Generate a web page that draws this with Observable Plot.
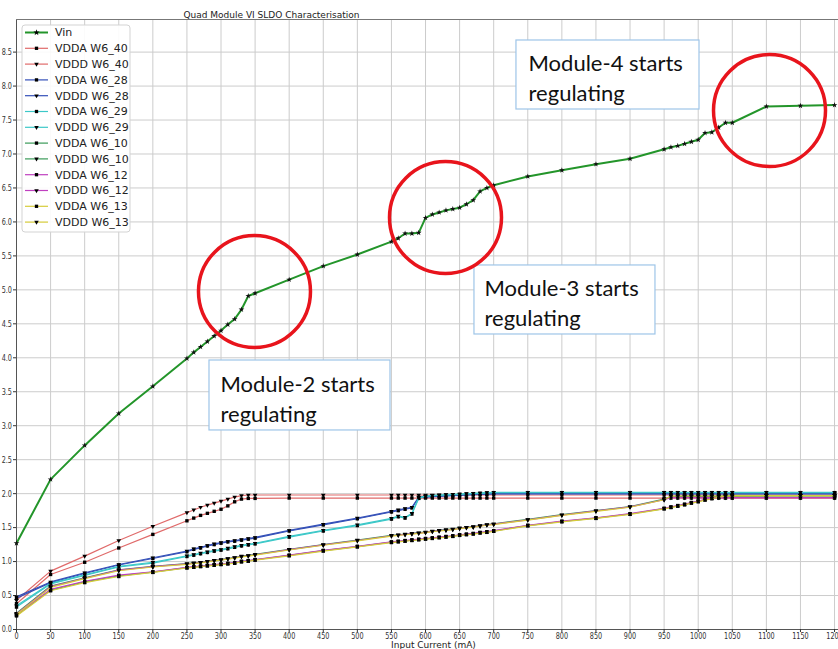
<!DOCTYPE html>
<html><head><meta charset="utf-8">
<script src="https://cdn.jsdelivr.net/npm/d3@7"></script>
<script src="https://cdn.jsdelivr.net/npm/@observablehq/plot@0.6"></script>
<style>
html,body{margin:0;padding:0;background:#fff;}
#chart{position:relative;width:838px;height:649px;overflow:hidden;}
</style></head><body><div id="chart"></div>
<script>
// ---------- data ----------
const current = [0,50,100,150,200,
  250,260,270,280,290,300,310,320,330,340,350,
  400,450,500,
  550,560,570,580,590,600,610,620,630,640,650,660,670,680,690,700,
  750,800,850,900,
  950,960,970,980,990,1000,1010,1020,1030,1040,1050,
  1100,1150,1200];

const vin = [1.27,2.21,2.71,3.18,3.58,
  3.99,4.08,4.16,4.24,4.32,4.40,4.49,4.57,4.71,4.91,4.95,
  5.15,5.35,5.52,
  5.71,5.76,5.83,5.83,5.84,6.06,6.11,6.14,6.17,6.19,6.21,6.26,6.32,6.45,6.50,6.54,
  6.67,6.76,6.85,6.93,
  7.07,7.10,7.12,7.15,7.18,7.21,7.31,7.32,7.39,7.46,7.46,
  7.70,7.71,7.72];

const vddaW640 = [0.38,0.81,0.99,1.20,1.40,
  1.60,1.64,1.68,1.71,1.74,1.77,1.82,1.88,1.92,1.93,1.93,
  1.935,1.935,1.935,
  1.935,1.935,1.935,1.935,1.935,1.935,1.935,1.935,1.935,1.935,1.935,1.935,1.935,1.935,1.935,1.935,
  1.935,1.935,1.935,1.935,
  1.935,1.935,1.935,1.935,1.935,1.935,1.935,1.935,1.935,1.935,1.935,
  1.935,1.935,1.935];
const vdddW640 = [0.43,0.86,1.08,1.31,1.52,
  1.72,1.76,1.80,1.83,1.86,1.89,1.92,1.95,1.97,1.98,1.98,
  1.98,1.98,1.98,
  1.98,1.98,1.98,1.98,1.98,1.98,1.98,1.98,1.98,1.98,1.98,1.98,1.98,1.98,1.98,1.98,
  1.98,1.98,1.98,1.98,
  1.98,1.98,1.98,1.98,1.98,1.98,1.98,1.98,1.98,1.98,1.98,
  1.98,1.98,1.98];
const vddaW628 = [0.46,0.69,0.825,0.95,1.045,
  1.145,1.18,1.20,1.23,1.25,1.27,1.29,1.30,1.315,1.33,1.345,
  1.45,1.54,1.63,
  1.73,1.75,1.77,1.79,1.94,1.95,1.955,1.96,1.965,1.97,1.975,1.98,1.985,1.99,1.99,1.995,
  1.995,1.995,1.995,1.995,
  1.995,1.995,1.995,1.995,1.995,1.995,1.995,1.995,1.995,1.995,1.995,
  1.995,1.995,1.995];
const vdddW628 = [0.48,0.70,0.835,0.957,1.056,
  1.153,1.188,1.21,1.237,1.26,1.28,1.296,1.31,1.325,1.34,1.355,
  1.458,1.55,1.64,
  1.74,1.76,1.78,1.80,1.95,1.955,1.96,1.965,1.97,1.975,1.98,1.985,1.99,1.99,1.995,2.00,
  2.00,2.00,2.00,2.00,
  2.00,2.00,2.00,2.00,2.00,2.00,2.00,2.00,2.00,2.00,2.00,
  2.00,2.00,2.00];
const vddaW629 = [0.33,0.67,0.795,0.92,0.977,
  1.075,1.094,1.115,1.134,1.153,1.168,1.188,1.21,1.23,1.245,1.26,
  1.36,1.45,1.53,
  1.625,1.66,1.64,1.70,1.93,1.96,1.97,1.975,1.98,1.985,1.99,1.995,2.00,2.005,2.01,2.015,
  2.015,2.015,2.015,2.015,
  2.015,2.015,2.015,2.015,2.015,2.015,2.015,2.015,2.015,2.015,2.015,
  2.015,2.015,2.015];
const vdddW629 = [0.35,0.68,0.805,0.93,0.99,
  1.085,1.104,1.125,1.144,1.163,1.178,1.198,1.22,1.24,1.255,1.27,
  1.37,1.46,1.54,
  1.635,1.67,1.65,1.71,1.94,1.965,1.975,1.98,1.985,1.99,1.995,2.00,2.005,2.01,2.015,2.02,
  2.02,2.02,2.02,2.02,
  2.02,2.02,2.02,2.02,2.02,2.02,2.02,2.02,2.02,2.02,2.02,
  2.02,2.02,2.02];
const vddaW610 = [0.21,0.58,0.70,0.79,0.845,
  0.91,0.92,0.93,0.94,0.95,0.96,0.97,0.98,1.00,1.01,1.027,
  1.09,1.16,1.22,
  1.285,1.295,1.305,1.315,1.325,1.335,1.345,1.355,1.365,1.375,1.39,1.40,1.41,1.425,1.435,1.45,
  1.53,1.59,1.64,1.70,
  1.78,1.80,1.82,1.84,1.865,1.885,1.91,1.93,1.95,1.97,1.975,
  1.97,1.97,1.97];
const vdddW610 = [0.24,0.64,0.76,0.88,0.93,
  0.97,0.98,0.99,1.005,1.02,1.03,1.045,1.06,1.08,1.09,1.105,
  1.18,1.25,1.315,
  1.385,1.395,1.405,1.415,1.425,1.435,1.45,1.46,1.47,1.48,1.495,1.505,1.515,1.53,1.545,1.556,
  1.62,1.69,1.75,1.81,
  1.92,1.95,1.955,1.96,1.96,1.96,1.96,1.96,1.96,1.96,1.96,
  1.965,1.965,1.965];
const vddaW612 = [0.22,0.59,0.71,0.80,0.85,
  0.915,0.925,0.935,0.945,0.955,0.965,0.975,0.985,1.005,1.015,1.03,
  1.095,1.165,1.225,
  1.29,1.30,1.31,1.32,1.33,1.34,1.35,1.36,1.37,1.38,1.395,1.405,1.415,1.43,1.44,1.455,
  1.535,1.595,1.645,1.705,
  1.785,1.805,1.825,1.845,1.87,1.89,1.915,1.935,1.94,1.94,1.94,
  1.94,1.94,1.94];
const vdddW612 = [0.23,0.63,0.755,0.875,0.925,
  0.965,0.975,0.985,1.0,1.015,1.025,1.04,1.055,1.075,1.085,1.10,
  1.175,1.245,1.31,
  1.38,1.39,1.40,1.41,1.42,1.43,1.445,1.455,1.465,1.475,1.49,1.50,1.51,1.525,1.54,1.55,
  1.615,1.685,1.745,1.805,
  1.91,1.94,1.94,1.94,1.94,1.94,1.94,1.94,1.94,1.94,1.94,
  1.94,1.94,1.94];
const vddaW613 = [0.20,0.57,0.69,0.78,0.84,
  0.905,0.915,0.925,0.935,0.945,0.955,0.965,0.975,0.995,1.005,1.02,
  1.085,1.155,1.215,
  1.28,1.29,1.30,1.31,1.32,1.33,1.34,1.35,1.36,1.37,1.385,1.395,1.405,1.42,1.43,1.445,
  1.525,1.585,1.635,1.695,
  1.775,1.795,1.815,1.835,1.86,1.88,1.905,1.925,1.945,1.965,1.97,
  1.97,1.97,1.97];
const vdddW613 = [0.22,0.62,0.75,0.865,0.92,
  0.96,0.97,0.98,0.995,1.01,1.02,1.035,1.05,1.07,1.08,1.095,
  1.17,1.24,1.305,
  1.375,1.385,1.395,1.405,1.415,1.425,1.44,1.45,1.46,1.47,1.485,1.495,1.505,1.52,1.535,1.545,
  1.61,1.68,1.74,1.80,
  1.91,1.965,1.965,1.965,1.965,1.965,1.965,1.965,1.965,1.965,1.965,
  1.97,1.97,1.97];

const seriesNames = ["Vin","VDDA W6_40","VDDD W6_40","VDDA W6_28","VDDD W6_28","VDDA W6_29","VDDD W6_29",
  "VDDA W6_10","VDDD W6_10","VDDA W6_12","VDDD W6_12","VDDA W6_13","VDDD W6_13"];
const seriesValues = [vin,vddaW640,vdddW640,vddaW628,vdddW628,vddaW629,vdddW629,
  vddaW610,vdddW610,vddaW612,vdddW612,vddaW613,vdddW613];
const seriesColors = ["#23952a","#e06a6a","#e06a6a","#3450b8","#3450b8","#3cc8c8","#3cc8c8",
  "#3a9a58","#3a9a58","#c040c0","#c040c0","#d6cc3a","#d6cc3a"];
const seriesMarkers = ["star","square","tri","square","tri","square","tri","square","tri","square","tri","square","tri"];

const xTicks = [0,50,100,150,200,250,300,350,400,450,500,550,600,650,700,750,800,850,900,950,1000,1050,1100,1150,1200];
const yTicks = [0,0.5,1,1.5,2,2.5,3,3.5,4,4.5,5,5.5,6,6.5,7,7.5,8,8.5];

const titleText = "Quad Module VI SLDO Characterisation";
const xLabelText = "Input Current (mA)";

// annotations (data coordinates)
const boxes = [
  {x1:733.4, x2:1001.9, y1:7.655, y2:8.671, tx:751.1, ty:8.141, label:"Module-4 starts\nregulating"},
  {x1:671.8, x2:937.3, y1:4.343, y2:5.359, tx:686.5, ty:4.829, label:"Module-3 starts\nregulating"},
  {x1:283.1, x2:548.6, y1:2.930, y2:3.960, tx:299.2, ty:3.415, label:"Module-2 starts\nregulating"}
];
const circles = [
  {x:349.1, y:4.976},
  {x:629.3, y:6.065},
  {x:1104.6, y:7.640}
];

// ---------- chart ----------
const xMax = 1205.8, yMax = 8.98;
const series = seriesNames.map((name,k)=>({
  name, color: seriesColors[k], marker: seriesMarkers[k],
  rows: current.map((c,i)=>({x:c, y:seriesValues[k][i]}))
}));

const seriesMarks = [];
for (const s of series) {
  seriesMarks.push(Plot.line(s.rows, {x:"x", y:"y", stroke:s.color, strokeWidth: s.name==="Vin" ? 2 : 1.2}));
  if (s.marker === "star") {
    seriesMarks.push(Plot.dot(s.rows, {x:"x", y:"y", symbol:"star", r:1.8, fill:"#111", stroke:null}));
  } else if (s.marker === "square") {
    seriesMarks.push(Plot.dot(s.rows, {x:"x", y:"y", symbol:"square", r:1.9, fill:"#000", stroke:null}));
  } else {
    seriesMarks.push(Plot.dot(s.rows, {x:"x", y:"y", symbol:"triangle", rotate:180, r:1.7, fill:"#000", stroke:null}));
  }
}

const svg = Plot.plot({
  width: 838, height: 649,
  marginLeft: 16, marginRight: 0, marginTop: 19, marginBottom: 20,
  style: {fontFamily: "DejaVu Sans", fontSize: "9px", background: "white", overflow: "visible"},
  x: {domain: [0, xMax], label: null},
  y: {domain: [0, yMax], label: null},
  marks: [
    Plot.gridX(xTicks, {stroke:"#cccccc", strokeOpacity:1}),
    Plot.gridY(yTicks, {stroke:"#cccccc", strokeOpacity:1}),
    Plot.ruleX([0], {stroke:"#555"}),
    Plot.ruleY([0], {stroke:"#555"}),
    Plot.ruleY([yMax], {stroke:"#777"}),
    Plot.axisX(xTicks, {tickSize:3, tickPadding:0.5, tickFormat: d => String(d), color:"#333", label:null, fontSize:9}),
    Plot.axisY(yTicks, {tickSize:3, tickPadding:1.5, tickFormat: d3.format(".1f"), color:"#333", label:null, fontSize:9}),
    ...seriesMarks,
    Plot.rect(boxes, {x1:"x1", x2:"x2", y1:"y1", y2:"y2", fill:"white", stroke:"#9ec5e8", strokeWidth:1.2}),
    Plot.text(boxes, {x:"tx", y:"ty", text:"label", textAnchor:"start", lineAnchor:"middle", lineHeight:1.36,
      fontSize:22, fontFamily:"Lato", fill:"#111"}),
    Plot.dot(circles, {x:"x", y:"y", r:56, stroke:"#e8141c", strokeWidth:3.5, fill:"none"}),
    Plot.text([titleText], {frameAnchor:"top-left", dx:255, dy:-8, textAnchor:"middle", fontSize:9, fill:"#222", ariaLabel:"chart-title"}),
    Plot.text([xLabelText], {frameAnchor:"bottom-left", dx:417, dy:18.5, textAnchor:"middle", fontSize:9, fill:"#222", ariaLabel:"x-label"})
  ]
});

document.getElementById("chart").append(svg);
const root = d3.select(svg);

// horizontally condensed text, as in the reference
root.selectAll('g[aria-label="x-axis tick label"] text, g[aria-label="y-axis tick label"] text').each(function(){
  const w = this.getComputedTextLength();
  this.setAttribute("textLength", w*0.72);
  this.setAttribute("lengthAdjust", "spacingAndGlyphs");
});
root.selectAll('g[aria-label="chart-title"] text').attr("textLength", 108).attr("lengthAdjust","spacingAndGlyphs");
root.selectAll('g[aria-label="x-label"] text').attr("textLength", 70).attr("lengthAdjust","spacingAndGlyphs");

// legend
const lg = root.append("g").attr("transform", "translate(22,25)").attr("text-anchor","start");
lg.append("rect").attr("width",108).attr("height",207).attr("rx",3)
  .attr("fill","white").attr("fill-opacity",0.9).attr("stroke","#d3d3d3");
series.forEach((s,i)=>{
  const cy = 7.5 + i*15.8;
  const g = lg.append("g").attr("transform", `translate(0,${cy})`);
  g.append("line").attr("x1",3).attr("x2",26).attr("y1",0).attr("y2",0)
    .attr("stroke", s.color).attr("stroke-width", s.name==="Vin" ? 2 : 1.2);
  let sym, size, rot = 0;
  if (s.marker === "star") { sym = d3.symbolStar; size = 12; }
  else if (s.marker === "square") { sym = d3.symbolSquare; size = 11; }
  else { sym = d3.symbolTriangle; size = 9; rot = 180; }
  g.append("path").attr("d", d3.symbol(sym, size)()).attr("transform", `translate(14.5,0) rotate(${rot})`).attr("fill","#000");
  g.append("text").attr("x",33).attr("y",0).attr("dy","0.35em").attr("text-anchor","start")
    .attr("font-family","DejaVu Sans").attr("font-size",11).attr("fill","#222").text(s.name);
});
</script>
</body></html>
